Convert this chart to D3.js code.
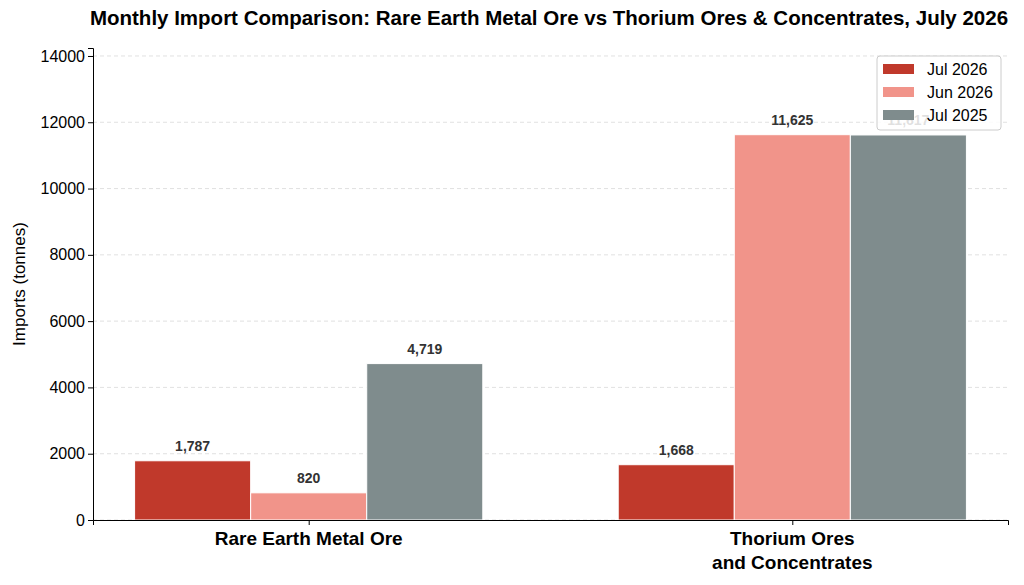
<!DOCTYPE html>
<html lang="en">
<head>
    <meta charset="UTF-8">
    <title>Monthly Import Comparison</title>
    <script src="https://d3js.org/d3.v7.min.js"></script>
    <style>
        body { margin: 0; background: #fff; }
        text { font-family: "Liberation Sans", Arial, sans-serif; }
    </style>
</head>
<body>
    <svg id="chart"></svg>

    <script>
        const categories = ["Rare Earth Metal Ore", "Thorium Ores and Concentrates"];
        const categoryLines = [["Rare Earth Metal Ore"], ["Thorium Ores", "and Concentrates"]];
        const seriesNames = ["Jul 2026", "Jun 2026", "Jul 2025"];
        const jul2026 = [1787, 1668];
        const jun2026 = [820, 11625];
        const jul2025 = [4719, 11617];
        const yTicks = [0, 2000, 4000, 6000, 8000, 10000, 12000, 14000];
        const colors = ["#c0392b", "#f1948a", "#7f8c8d"];

        const series = [jul2026, jun2026, jul2025];
        const W = 1024, H = 585;
        const margin = { top: 48, right: 16, bottom: 65, left: 93 };
        const width = W - margin.left - margin.right;
        const height = H - margin.top - margin.bottom;
        const barW = 0.24;

        const svg = d3.select("#chart")
            .attr("width", W)
            .attr("height", H);

        const g = svg.append("g")
            .attr("transform", `translate(${margin.left}, ${margin.top})`);

        const x = d3.scaleLinear()
            .domain([-0.446, 1.446])
            .range([0, width]);

        const y = d3.scaleLinear()
            .domain([0, 11625 * 1.225])
            .range([height, 0]);

        // grid
        g.append("g")
            .selectAll("line")
            .data(yTicks)
            .enter()
            .append("line")
            .attr("x1", 0)
            .attr("x2", width)
            .attr("y1", d => y(d))
            .attr("y2", d => y(d))
            .attr("stroke", "#d9d9d9")
            .attr("stroke-width", 0.8)
            .attr("stroke-dasharray", "4,3");

        // bars + value labels
        series.forEach((vals, s) => {
            g.selectAll(".bar-" + s)
                .data(vals)
                .enter()
                .append("rect")
                .attr("class", "bar-" + s)
                .attr("x", (d, i) => x(i + (s - 1) * barW - barW / 2))
                .attr("y", d => y(d))
                .attr("width", x(barW) - x(0))
                .attr("height", d => height - y(d))
                .attr("fill", colors[s])
                .attr("stroke", "#fff")
                .attr("stroke-width", 1);

            g.selectAll(".lbl-" + s)
                .data(vals)
                .enter()
                .append("text")
                .attr("x", (d, i) => x(i + (s - 1) * barW))
                .attr("y", d => y(d) - 10)
                .attr("text-anchor", "middle")
                .style("font-size", "14px")
                .style("font-weight", "bold")
                .attr("fill", "#333")
                .text(d => d3.format(",")(d));
        });

        // y axis
        const yAxis = g.append("g")
            .call(d3.axisLeft(y).tickValues(yTicks).tickFormat(d3.format("d")).tickSizeOuter(0).tickSize(5));
        yAxis.selectAll("text").style("font-size", "16px").attr("fill", "#000").attr("x", -8);
        yAxis.select(".domain").attr("stroke", "#000");

        // x axis
        const xAxis = g.append("g")
            .attr("transform", `translate(0, ${height})`)
            .call(d3.axisBottom(x).tickValues([0, 1]).tickFormat("").tickSizeOuter(0).tickSize(5));
        xAxis.select(".domain").attr("stroke", "#000");

        categoryLines.forEach((lines, i) => {
            const t = g.append("text")
                .attr("x", x(i))
                .attr("y", height + 25)
                .attr("text-anchor", "middle")
                .style("font-size", "19px")
                .style("font-weight", "bold")
                .attr("fill", "#000");
            lines.forEach((ln, j) => {
                t.append("tspan")
                    .attr("x", x(i))
                    .attr("dy", j === 0 ? 0 : 24)
                    .text(ln);
            });
        });

        // y label
        svg.append("text")
            .attr("transform", `translate(25, ${margin.top + height / 2}) rotate(-90)`)
            .attr("text-anchor", "middle")
            .style("font-size", "17px")
            .attr("fill", "#000")
            .text("Imports (tonnes)");

        // title
        svg.append("text")
            .attr("x", 549)
            .attr("y", 25)
            .attr("text-anchor", "middle")
            .style("font-size", "20.5px")
            .style("font-weight", "bold")
            .attr("fill", "#000")
            .text("Monthly Import Comparison: Rare Earth Metal Ore vs Thorium Ores & Concentrates, July 2026");

        // legend
        const lg = svg.append("g").attr("transform", "translate(877, 56)");
        lg.append("rect")
            .attr("width", 124)
            .attr("height", 74)
            .attr("rx", 3)
            .attr("fill", "#fff")
            .attr("fill-opacity", 0.85)
            .attr("stroke", "#ccc");
        seriesNames.forEach((name, i) => {
            lg.append("rect")
                .attr("x", 6)
                .attr("y", 8 + i * 23)
                .attr("width", 31)
                .attr("height", 10)
                .attr("fill", colors[i]);
            lg.append("text")
                .attr("x", 50)
                .attr("y", 19 + i * 23)
                .style("font-size", "16px")
                .attr("fill", "#000")
                .text(name);
        });
    </script>
</body>
</html>
